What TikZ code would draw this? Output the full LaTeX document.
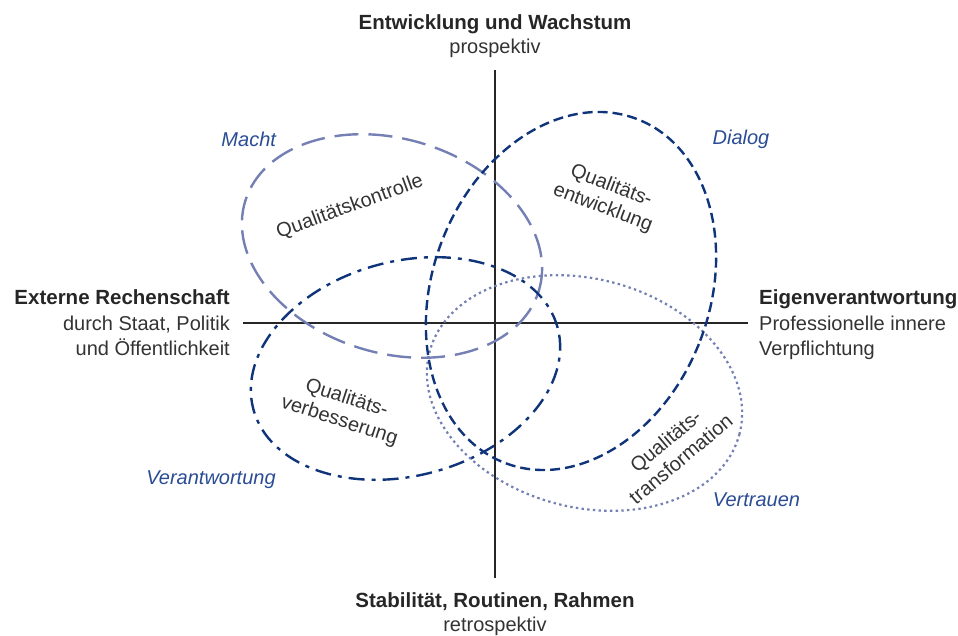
\documentclass[tikz,border=0pt]{standalone}
\usepackage{fontspec}
\setmainfont{Liberation Sans}
\definecolor{lightblue}{HTML}{7480B4}
\definecolor{navy}{HTML}{0F347A}
\definecolor{labelblue}{HTML}{2A4C94}
\definecolor{txt}{HTML}{333333}
\tikzset{
  axis/.style={draw=black!85, line width=1.2pt},
  ekontrolle/.style={draw=lightblue, line width=2.4pt, dash pattern=on 24pt off 10pt},
  eentwicklung/.style={draw=navy, line width=2.4pt, dash pattern=on 10pt off 5pt},
  everbesserung/.style={draw=navy, line width=2.4pt, dash pattern=on 16pt off 7pt on 4pt off 7pt},
  etransformation/.style={draw=lightblue, line width=2.2pt, dash pattern=on 2.4pt off 3.3pt},
  pole/.style={inner sep=0pt, text=txt, font=\fontsize{20}{24}\selectfont},
  polebold/.style={inner sep=0pt, text=black!85, font=\fontsize{20.5}{24}\selectfont\bfseries},
  quality/.style={inner sep=0pt, text=txt, align=center, font=\fontsize{20}{23.5}\selectfont},
  mode/.style={inner sep=0pt, anchor=base, text=labelblue, font=\fontsize{20}{24}\selectfont\itshape},
}
\begin{document}
\begin{tikzpicture}[x=1pt,y=1pt]
\useasboundingbox (0,0) rectangle (958,636);
% axes
\coordinate (vtop) at (495,565.5);
\coordinate (vbot) at (495,58);
\coordinate (hleft) at (243,313);
\coordinate (hright) at (748,313);
\draw[axis] (vtop) -- (vbot);
\draw[axis] (hleft) -- (hright);
% ellipses
\draw[ekontrolle, rotate around={-17:(392,390)}] (392,390) ellipse [x radius=153.5pt, y radius=107pt];
\draw[everbesserung, rotate around={15:(405.5,267.5)}] (405.5,267.5) ellipse [x radius=157.5pt, y radius=107.2pt];
\draw[etransformation, rotate around={-15:(584.5,243)}] (584.5,243) ellipse [x radius=160.3pt, y radius=114.1pt];
\draw[eentwicklung, rotate around={-21:(571,345)}] (571,345) ellipse [x radius=138.4pt, y radius=184.2pt];
% ellipse labels
\node[quality, rotate=20] (qk) at (350,429) {Qualitätskontrolle};
\node[quality, rotate=-21] (qe) at (607,439) {Qualitäts-\\entwicklung};
\node[quality, rotate=-18] (qv) at (343,226) {Qualitäts-\\verbesserung};
\node[quality, rotate=40] (qt) at (673,186) {Qualitäts-\\transformation};
% mode labels
\node[mode] (macht) at (248.7,489.3) {Macht};
\node[mode] (dialog) at (741,491) {Dialog};
\node[mode] (verantw) at (211,151) {Verantwortung};
\node[mode] (vertrauen) at (756.5,129.3) {Vertrauen};
% top
\node[polebold, anchor=base] (top1) at (495,606.7) {Entwicklung und Wachstum};
\node[pole, anchor=base] (top2) at (495,582.5) {prospektiv};
% bottom
\node[polebold, anchor=base] (bot1) at (495,28.3) {Stabilität, Routinen, Rahmen};
\node[pole, anchor=base] (bot2) at (495,4.3) {retrospektiv};
% left
\node[polebold, anchor=base east] (l1) at (230,331) {Externe Rechenschaft};
\node[pole, anchor=base east] (l2) at (230,305.5) {durch Staat, Politik};
\node[pole, anchor=base east] (l3) at (230,280) {und Öffentlichkeit};
% right
\node[polebold, anchor=base west] (r1) at (759,331) {Eigenverantwortung};
\node[pole, anchor=base west] (r2) at (759,305.5) {Professionelle innere};
\node[pole, anchor=base west] (r3) at (759,280) {Verpflichtung};
\end{tikzpicture}
\end{document}
